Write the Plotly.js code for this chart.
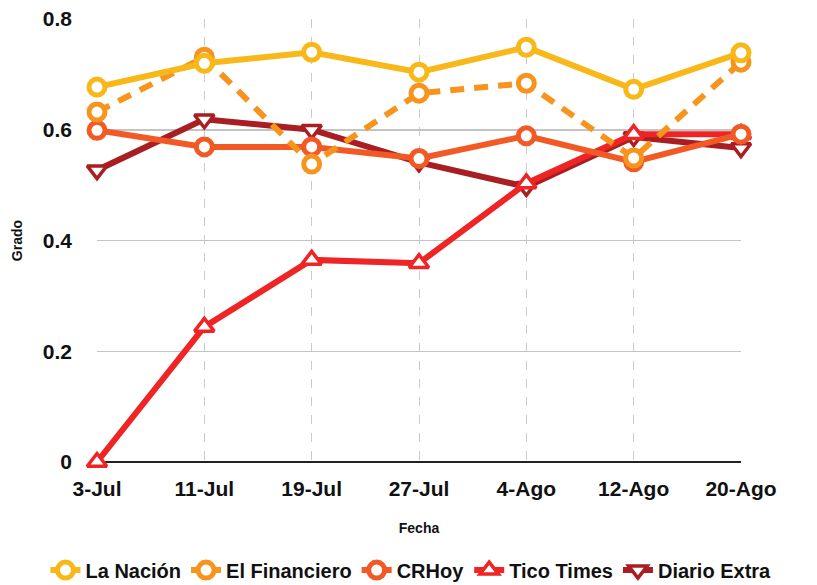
<!DOCTYPE html>
<html>
<head>
<meta charset="utf-8">
<script src="https://cdn.plot.ly/plotly-3.0.1.min.js"></script>
<style>html,body{margin:0;padding:0;background:#fff;}#chart{width:817px;height:585px;}</style>
</head>
<body>
<div id="chart"></div>
<script>
const fechas = ["3-Jul", "11-Jul", "19-Jul", "27-Jul", "4-Ago", "12-Ago", "20-Ago"];
const laNacion = [0.677, 0.720, 0.740, 0.704, 0.749, 0.673, 0.739];
const elFinanciero = [0.632, 0.731, 0.538, 0.666, 0.684, 0.549, 0.722];
const crHoy = [0.599, 0.569, 0.569, 0.548, 0.589, 0.542, 0.592];
const ticoTimes = [0.0, 0.244, 0.365, 0.359, 0.503, 0.592, 0.592];
const diarioExtra = [0.527, 0.619, 0.600, 0.541, 0.497, 0.587, 0.567];

const FONT = '"Liberation Sans", Arial, "DejaVu Sans", sans-serif';

function circ(name, y, color, dash) {
  return {
    type: 'scatter', mode: 'lines+markers', name: name, x: fechas, y: y,
    line: {color: color, width: 6, dash: dash || 'solid'},
    marker: {symbol: 'circle', size: 16, color: '#ffffff', line: {color: color, width: 5}},
    cliponaxis: false
  };
}
function tri(name, y, color, sym) {
  return {
    type: 'scatter', mode: 'lines+markers', name: name, x: fechas, y: y,
    line: {color: color, width: 6},
    marker: {symbol: sym, size: 17, color: '#ffffff', line: {color: color, width: 3.5}},
    cliponaxis: false
  };
}

const data = [
  tri('Diario Extra', diarioExtra, '#A81E22', 'triangle-down'),
  tri('Tico Times', ticoTimes, '#EE2524', 'triangle-up'),
  circ('CRHoy', crHoy, '#F15A24'),
  circ('El Financiero', elFinanciero, '#F7941D', '14px,10px'),
  circ('La Nación', laNacion, '#F8B819')
];

const layout = {
  width: 817, height: 585,
  margin: {l: 97, r: 76, t: 19, b: 123, autoexpand: false},
  paper_bgcolor: '#ffffff', plot_bgcolor: '#ffffff',
  font: {family: FONT, color: '#111111'},
  showlegend: true,
  legend: {
    orientation: 'h', traceorder: 'reversed',
    x: -0.08, xanchor: 'left', y: -0.2, yanchor: 'top',
    font: {family: FONT, size: 20, color: '#111111', weight: 'bold'},
    itemwidth: 30, borderwidth: 0
  },
  xaxis: {
    type: 'category', range: [0, 6],
    showgrid: true, gridcolor: '#cccccc', griddash: 'dash', gridwidth: 1,
    showline: false, zeroline: false, ticks: '',
    tickfont: {family: FONT, size: 21, color: '#111111', weight: 'bold'},
    ticklabelstandoff: 12,
    title: {text: 'Fecha', font: {family: FONT, size: 14, color: '#111111', weight: 'bold'}, standoff: 24}
  },
  yaxis: {
    range: [0, 0.8], dtick: 0.2, tickformat: '.1~f',
    showgrid: true, gridcolor: '#c4c4c4', gridwidth: 1.5,
    zeroline: true, zerolinecolor: '#222222', zerolinewidth: 2.5,
    showline: false, ticks: '',
    tickfont: {family: FONT, size: 21, color: '#111111', weight: 'bold'},
    ticklabelstandoff: 24,
    title: {text: 'Grado', font: {family: FONT, size: 14, color: '#111111', weight: 'bold'}, standoff: 16}
  }
};

Plotly.newPlot('chart', data, layout, {displayModeBar: false, staticPlot: true});
</script>
</body>
</html>
